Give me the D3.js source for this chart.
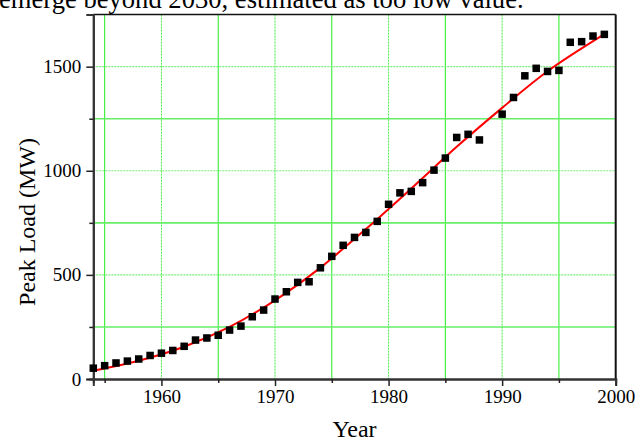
<!DOCTYPE html>
<html>
<head>
<meta charset="utf-8">
<script src="https://cdn.jsdelivr.net/npm/d3@7"></script>
<style>
  html, body { margin: 0; padding: 0; background: #fff; }
  svg { display: block; }
  svg text { font-family: "Liberation Serif", "Times New Roman", serif !important; fill: #000; }
</style>
</head>
<body>
<svg id="chart" width="636" height="443"></svg>
<script>
// Observed annual peak load (MW)
const years = [1954, 1955, 1956, 1957, 1958, 1959, 1960, 1961, 1962, 1963, 1964, 1965,
  1966, 1967, 1968, 1969, 1970, 1971, 1972, 1973, 1974, 1975, 1976, 1977, 1978, 1979,
  1980, 1981, 1982, 1983, 1984, 1985, 1986, 1987, 1988, 1990, 1991, 1992, 1993, 1994,
  1995, 1996, 1997, 1998, 1999];
const peakLoad = [52, 64, 77, 86, 96, 113, 124, 137, 157, 187, 197, 210,
  235, 254, 299, 331, 384, 419, 464, 467, 534, 589, 642, 680, 704, 757,
  839, 894, 901, 943, 1003, 1061, 1160, 1175, 1148, 1272, 1352, 1456, 1492, 1477,
  1482, 1617, 1620, 1647, 1655];

// Fitted growth curve, sampled
const fitYears = [1954, 1958, 1962, 1966, 1970, 1974, 1978, 1982, 1986, 1990, 1994, 1999];
const fitLoad = [40, 88, 155, 250, 378, 535, 720, 915, 1115, 1302, 1478, 1656];

// Axis ticks
const xMajorTicks = [1960, 1970, 1980, 1990, 2000];
const xMinorTicks = [1955, 1965, 1975, 1985, 1995];
const yMajorTicks = [0, 500, 1000, 1500];
const yMinorTicks = [250, 750, 1250];

const topNote = "emerge beyond 2030, estimated as too low value.";
const xTitle = "Year";
const yTitle = "Peak Load (MW)";

const svg = d3.select("#chart");
const pLeft = 93.3, pRight = 615.7, pTop = 14.6, pBottom = 379;

const x = d3.scaleLinear().domain([1954, 2000]).range([pLeft, pRight]);
const y = d3.scaleLinear().domain([0, 1750]).range([pBottom, pTop]);

// Caption line running off the top edge
svg.append("text")
  .attr("x", -1).attr("y", 8)
  .attr("font-size", 26.6)
  .text(topNote);

// Grid: minor positions solid, major positions dotted
const grid = svg.append("g");
grid.selectAll("line.vmin").data(xMinorTicks).join("line")
  .attr("x1", d => x(d)).attr("x2", d => x(d))
  .attr("y1", pTop).attr("y2", pBottom)
  .attr("stroke", "#22ee22").attr("stroke-width", 1);
grid.selectAll("line.vmaj").data(xMajorTicks.filter(d => d < 2000)).join("line")
  .attr("x1", d => x(d)).attr("x2", d => x(d))
  .attr("y1", pTop).attr("y2", pBottom)
  .attr("stroke", "#44ee44").attr("stroke-width", 1)
  .attr("stroke-dasharray", "2,1");
grid.selectAll("line.hmin").data(yMinorTicks).join("line")
  .attr("x1", pLeft).attr("x2", pRight)
  .attr("y1", d => y(d)).attr("y2", d => y(d))
  .attr("stroke", "#66ee66").attr("stroke-width", 1.6);
grid.selectAll("line.hmaj").data(yMajorTicks.filter(d => d > 0)).join("line")
  .attr("x1", pLeft).attr("x2", pRight)
  .attr("y1", d => y(d)).attr("y2", d => y(d))
  .attr("stroke", "#77ee77").attr("stroke-width", 1.2)
  .attr("stroke-dasharray", "2,1");

// Frame: top and right edges
svg.append("line").attr("x1", pLeft).attr("x2", pRight).attr("y1", pTop).attr("y2", pTop)
  .attr("stroke", "#111").attr("stroke-width", 1.5);
svg.append("line").attr("x1", pRight).attr("x2", pRight).attr("y1", pTop).attr("y2", pBottom)
  .attr("stroke", "#111").attr("stroke-width", 2);

// Axes
const xAxis = svg.append("g").attr("transform", `translate(0,${pBottom})`)
  .call(d3.axisBottom(x).tickValues(xMajorTicks).tickFormat(d3.format("d")).tickSize(7).tickPadding(4));
const xAxisMinor = svg.append("g").attr("transform", `translate(0,${pBottom})`)
  .call(d3.axisBottom(x).tickValues(xMinorTicks).tickFormat("").tickSize(4));
const yAxis = svg.append("g").attr("transform", `translate(${pLeft},0)`)
  .call(d3.axisLeft(y).tickValues(yMajorTicks).tickFormat(d3.format("d")).tickSize(7).tickPadding(5));
const yAxisMinor = svg.append("g").attr("transform", `translate(${pLeft},0)`)
  .call(d3.axisLeft(y).tickValues(yMinorTicks).tickFormat("").tickSize(4));

[xAxis, xAxisMinor, yAxis, yAxisMinor].forEach(g => {
  g.attr("font-family", null).attr("font-size", 19);
  g.select(".domain").attr("stroke", "#333").attr("stroke-width", 2);
  g.selectAll(".tick line").attr("stroke", "#222").attr("stroke-width", 1.5);
  g.selectAll("text").style("font-family", "'Liberation Serif', serif").style("font-size", "19px").attr("fill", "#000");
});

// Fitted curve
const line = d3.line().x(d => x(d[0])).y(d => y(d[1])).curve(d3.curveCatmullRom);
svg.append("path")
  .datum(fitYears.map((yr, i) => [yr, fitLoad[i]]))
  .attr("d", line)
  .attr("fill", "none").attr("stroke", "#ff0000").attr("stroke-width", 2);

// Observations as square markers
const sz = 7.5;
svg.append("g").selectAll("rect").data(years.map((yr, i) => [yr, peakLoad[i]])).join("rect")
  .attr("x", d => x(d[0]) - sz / 2).attr("y", d => y(d[1]) - sz / 2)
  .attr("width", sz).attr("height", sz)
  .attr("fill", "#000");

// Axis titles
svg.append("text")
  .attr("x", (pLeft + pRight) / 2).attr("y", 437)
  .attr("text-anchor", "middle").attr("font-size", 24)
  .text(xTitle);
svg.append("text")
  .attr("transform", "translate(35,222) rotate(-90)")
  .attr("text-anchor", "middle").attr("font-size", 24)
  .text(yTitle);
</script>
</body>
</html>
